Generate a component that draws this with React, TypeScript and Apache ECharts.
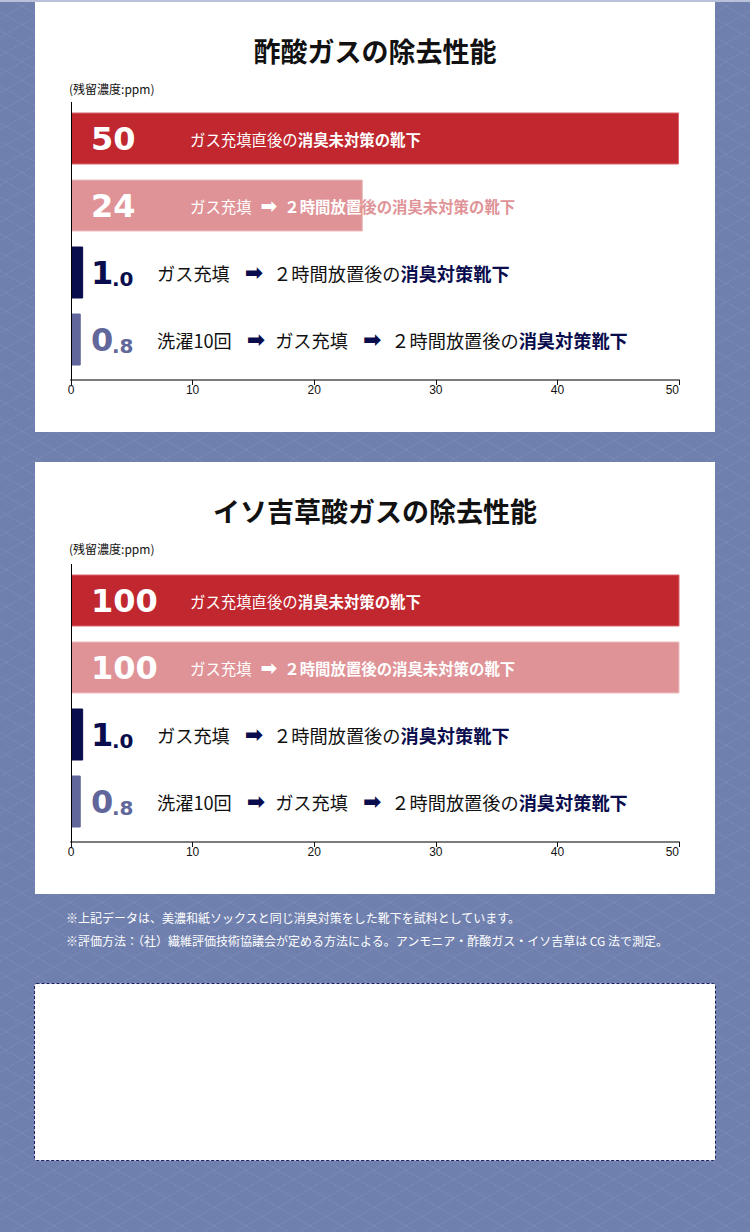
import { useEffect, useRef } from 'react';
import * as echarts from 'echarts';

// ---- data ----
const categories = ['直後・未対策', '2時間後・未対策', '2時間後・消臭対策', '洗濯後・消臭対策'];
const aceticValues = [50, 24, 1.0, 0.8];
const isovalericValues = [100, 100, 1.0, 0.8];
const aceticLabels = ['50', '24', '1.0', '0.8'];
const isovalericLabels = ['100', '100', '1.0', '0.8'];
const chartTitles = ['酢酸ガスの除去性能', 'イソ吉草酸ガスの除去性能'];
const unitLabel = '(残留濃度:ppm)';
const xMin = 0;
const xMax = 50;
const xInterval = 10;

// segment kinds: 0 plain, 1 strong, 2 arrow, 3 strong text running past the bar end
type Seg = [string, number];
const aceticTexts: Seg[][] = [
  [['ガス充填直後の', 0], ['消臭未対策の靴下', 1]],
  [['ガス充填', 0], ['➡', 2], ['２時間放置', 1], ['後の消臭未対策の靴下', 3]],
  [['ガス充填', 0], ['➡', 2], ['２時間放置後の', 0], ['消臭対策靴下', 1]],
  [['洗濯10回', 0], ['➡', 2], ['ガス充填', 0], ['➡', 2], ['２時間放置後の', 0], ['消臭対策靴下', 1]],
];
const isovalericTexts: Seg[][] = [
  [['ガス充填直後の', 0], ['消臭未対策の靴下', 1]],
  [['ガス充填', 0], ['➡', 2], ['２時間放置後の消臭未対策の靴下', 1]],
  [['ガス充填', 0], ['➡', 2], ['２時間放置後の', 0], ['消臭対策靴下', 1]],
  [['洗濯10回', 0], ['➡', 2], ['ガス充填', 0], ['➡', 2], ['２時間放置後の', 0], ['消臭対策靴下', 1]],
];
const footNotes = [
  '※上記データは、美濃和紙ソックスと同じ消臭対策をした靴下を試料としています。',
  '※評価方法：（社）繊維評価技術協議会が定める方法による。アンモニア・酢酸ガス・イソ吉草は CG 法で測定。',
];

// ---- styling ----
const BAR_COLORS = ['#c1272f', '#df9397', '#0a0d4d', '#61679a'];
const BAR_BORDERS = ['#d9676d', '#ecbdbf', '#0a0d4d', '#61679a'];
const NAVY = '#0a0d4d';
const CJK = "'Noto Sans CJK JP', sans-serif";
const NUM = "'DejaVu Sans', sans-serif";
const ARROW = "'DejaVu Sans', sans-serif";
const GRID_LEFT = 71;
const GRID_W = 608;
const GRID_H = 268;
const AXIS_OFFSET = 7;
const GRID_TOPS = [105, 567];
const PANEL_TOPS = [2, 462];

function richFor(row: number) {
  if (row < 2) {
    const t = { color: '#fff', fontFamily: CJK, fontSize: 15.4, lineHeight: 20 };
    return {
      n: { color: '#fff', fontFamily: NUM, fontWeight: 'bold', fontSize: 32, lineHeight: 34, width: 99 },
      t,
      b: { ...t, fontWeight: 'bold' },
      a: { color: '#fff', fontFamily: ARROW, fontWeight: 'bold', fontSize: 20, lineHeight: 20, padding: [0, 7, 0, 9] },
      p: { ...t, fontWeight: 'bold', color: BAR_COLORS[1] },
    };
  }
  const c = BAR_COLORS[row];
  const big = { color: c, fontFamily: NUM, fontWeight: 'bold', fontSize: 32, lineHeight: 32, verticalAlign: 'bottom' };
  const small = { color: c, fontFamily: NUM, fontWeight: 'bold', fontSize: 20, lineHeight: 24, verticalAlign: 'bottom' };
  const t = { color: '#111', fontFamily: CJK, fontSize: 18.2, lineHeight: 24 };
  return {
    n1: { ...big, width: 21 },
    n2: { ...small, width: 45 },
    t,
    b: { ...t, color: NAVY, fontWeight: 'bold' },
    a: { color: NAVY, fontFamily: ARROW, fontWeight: 'bold', fontSize: 22, lineHeight: 24, padding: [0, 10, 0, 15] },
  };
}

function formatLabel(label: string, segs: Seg[], row: number) {
  const names = ['t', 'b', 'a', 'p'];
  let num: string;
  if (row < 2) {
    num = `{n|${label}}`;
  } else {
    const [ip, fp] = label.split('.');
    num = `{n1|${ip}}{n2|.${fp}}`;
  }
  return num + segs.map(([s, k]) => `{${names[k]}|${s}}`).join('');
}

function buildOption(): echarts.EChartsOption {
  const sets = [
    { values: aceticValues, labels: aceticLabels, texts: aceticTexts },
    { values: isovalericValues, labels: isovalericLabels, texts: isovalericTexts },
  ];

  const title: any[] = [];
  chartTitles.forEach((txt, i) => {
    title.push({
      text: txt,
      left: 'center',
      top: PANEL_TOPS[i] + 35,
      padding: 0,
      textStyle: { fontSize: 27, fontWeight: 'bold', color: '#111', fontFamily: CJK },
    });
    title.push({
      text: unitLabel,
      left: 69,
      top: PANEL_TOPS[i] + 80,
      padding: 0,
      textStyle: { fontSize: 12, fontWeight: 'normal', color: '#111', fontFamily: CJK },
    });
  });

  const graphic: any[] = [
    { type: 'rect', z: -10, silent: true, shape: { x: 0, y: 0, width: 750, height: 2 }, style: { fill: '#b9c1da' } },
    ...PANEL_TOPS.map((top, i) => ({
      type: 'rect',
      z: -10,
      silent: true,
      shape: { x: 35, y: top, width: 680, height: i === 0 ? 430 : 432 },
      style: { fill: '#fff' },
    })),
    {
      type: 'rect',
      z: -10,
      silent: true,
      shape: { x: 34.5, y: 983.5, width: 681, height: 177, r: 2 },
      style: { fill: '#fff', stroke: '#1b1f5e', lineWidth: 1, lineDash: [3, 2] },
    },
    ...GRID_TOPS.map((top) => ({
      type: 'line',
      z: 100,
      silent: true,
      shape: { x1: GRID_LEFT + 0.5, y1: top - 3, x2: GRID_LEFT + 0.5, y2: top + GRID_H + AXIS_OFFSET },
      style: { stroke: '#000', lineWidth: 1 },
    })),
    ...footNotes.map((txt, i) => ({
      type: 'text',
      z: 10,
      silent: true,
      x: 66,
      y: 917 + i * 23,
      style: { text: txt, fill: '#fff', fontSize: 12, fontFamily: CJK, verticalAlign: 'middle' },
    })),
  ];

  return {
    animation: false,
    backgroundColor: 'transparent',
    title,
    graphic,
    grid: GRID_TOPS.map((top) => ({ left: GRID_LEFT, top, width: GRID_W, height: GRID_H, containLabel: false })),
    xAxis: GRID_TOPS.map((_, i) => ({
      type: 'value',
      gridIndex: i,
      min: xMin,
      max: xMax,
      interval: xInterval,
      offset: AXIS_OFFSET,
      axisLine: { show: true, lineStyle: { color: '#7b7b7b', width: 2 } },
      axisTick: { show: true, length: 5, lineStyle: { color: '#111', width: 1 } },
      axisLabel: {
        color: '#111',
        fontSize: 12,
        margin: 4,
        fontFamily: "'Liberation Sans', Arial, sans-serif",
        alignMaxLabel: 'right',
      },
      splitLine: { show: false },
    })),
    yAxis: GRID_TOPS.map((_, i) => ({
      type: 'category',
      gridIndex: i,
      data: categories,
      inverse: true,
      axisLine: { show: false },
      axisTick: { show: false },
      axisLabel: { show: false },
    })),
    series: sets.map((set, i) => ({
      type: 'bar',
      xAxisIndex: i,
      yAxisIndex: i,
      barWidth: 52,
      clip: true,
      data: set.values.map((v, row) => ({
        value: v,
        itemStyle: { color: BAR_COLORS[row], borderColor: BAR_BORDERS[row], borderWidth: 1 },
        label: {
          show: true,
          position: [20, '50%'],
          align: 'left',
          verticalAlign: 'middle',
          formatter: formatLabel(set.labels[row], set.texts[row], row),
          rich: richFor(row) as any,
        },
      })),
    })),
  } as echarts.EChartsOption;
}

export default function App() {
  const chartRef = useRef<HTMLDivElement>(null);

  useEffect(() => {
    if (!chartRef.current) return;
    const chart = echarts.init(chartRef.current, undefined, { renderer: 'svg' });
    chart.setOption(buildOption());
    return () => {
      chart.dispose();
    };
  }, []);

  return (
    <div
      style={{
        position: 'absolute',
        left: 0,
        top: 0,
        width: 750,
        height: 1232,
        backgroundColor: '#6f80ae',
        backgroundImage:
          'repeating-linear-gradient(30deg, rgba(255,255,255,0.06) 0 1px, transparent 1px 16px), repeating-linear-gradient(150deg, rgba(255,255,255,0.06) 0 1px, transparent 1px 16px)',
      }}
    >
      <div ref={chartRef} style={{ width: 750, height: 1232 }} />
    </div>
  );
}
